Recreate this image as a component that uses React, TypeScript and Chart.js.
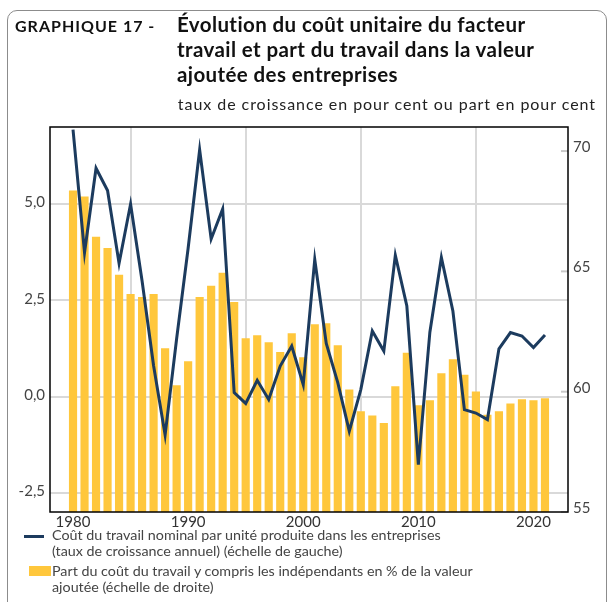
import React, { useEffect, useRef } from "react";
import { Chart, registerables } from "chart.js";

Chart.register(...registerables);

const years: number[] = [
  1980, 1981, 1982, 1983, 1984, 1985, 1986, 1987, 1988, 1989,
  1990, 1991, 1992, 1993, 1994, 1995, 1996, 1997, 1998, 1999,
  2000, 2001, 2002, 2003, 2004, 2005, 2006, 2007, 2008, 2009,
  2010, 2011, 2012, 2013, 2014, 2015, 2016, 2017, 2018, 2019,
  2020, 2021,
];

// Coût du travail nominal par unité produite (taux de croissance annuel, échelle de gauche)
const laborCostGrowth: number[] = [
  6.93, 3.74, 5.93, 5.35, 3.46, 5.0, 3.0, 0.8, -1.0, 1.5,
  3.85, 6.41, 4.09, 4.87, 0.1, -0.18, 0.42, -0.08, 0.79, 1.31,
  0.31, 3.56, 1.38, 0.36, -0.9, 0.18, 1.7, 1.18, 3.67, 2.35,
  -1.77, 1.67, 3.61, 2.22, -0.34, -0.43, -0.6, 1.24, 1.66, 1.57,
  1.27, 1.6,
];

// Part du coût du travail dans la valeur ajoutée (%, échelle de droite)
const laborShare: number[] = [
  68.35, 68.1, 66.43, 65.96, 64.85, 64.05, 63.92, 64.05, 61.79, 60.25,
  61.25, 63.92, 64.39, 64.93, 63.71, 62.21, 62.33, 62.04, 61.64, 62.42,
  61.42, 62.79, 62.83, 61.92, 60.08, 59.17, 59.0, 58.68, 60.21, 61.6,
  59.42, 59.63, 60.75, 61.33, 60.69, 59.99, 59.03, 59.17, 59.5, 59.67,
  59.63, 59.71,
];

const xTicks: number[] = [1980, 1990, 2000, 2010, 2020];
const leftTicks: number[] = [-2.5, 0, 2.5, 5];
const rightTicks: number[] = [55, 60, 65, 70];

const NAVY = "#1c3b5e";
const GOLD = "#ffc73c";
const GRID = "#d9d9d9";

const framePlugin = {
  id: "frame",
  afterDatasetsDraw(chart: any) {
    const { ctx, chartArea } = chart;
    const { left, right, top, bottom } = chartArea;
    ctx.save();
    const y1 = chart.scales.y1;
    ctx.strokeStyle = "#c8c8c8";
    ctx.lineWidth = 2;
    rightTicks.forEach((v) => {
      const py = y1.getPixelForValue(v);
      ctx.beginPath();
      ctx.moveTo(right - 7, py);
      ctx.lineTo(right, py);
      ctx.stroke();
    });
    ctx.strokeStyle = "#000";
    ctx.lineWidth = 1.5;
    ctx.strokeRect(left, top, right - left, bottom - top);
    ctx.restore();
  },
};

function ChartCanvas() {
  const ref = useRef<HTMLCanvasElement | null>(null);
  useEffect(() => {
    if (!ref.current) return;
    const tickFont = { family: "Lato", size: 15 };
    const chart = new Chart(ref.current, {
      type: "bar",
      data: {
        datasets: [
          {
            type: "line",
            label: "Coût du travail",
            data: years.map((yr, i) => ({ x: yr, y: laborCostGrowth[i] })),
            yAxisID: "y",
            borderColor: NAVY,
            borderWidth: 3,
            pointRadius: 0,
            tension: 0,
            order: 0,
          } as any,
          {
            type: "bar",
            label: "Part du coût du travail",
            data: years.map((yr, i) => ({ x: yr, y: laborShare[i] })),
            yAxisID: "y1",
            backgroundColor: GOLD,
            barThickness: 7.5,
            order: 1,
          } as any,
        ],
      },
      options: {
        responsive: false,
        animation: false,
        devicePixelRatio: 1,
        layout: { padding: { top: 127, left: 0, right: 0, bottom: 0 } },
        plugins: { legend: { display: false }, tooltip: { enabled: false } },
        scales: {
          x: {
            type: "linear",
            min: 1978,
            max: 2023,
            offset: false,
            afterBuildTicks: (s: any) => {
              s.ticks = xTicks.map((v) => ({ value: v }));
            },
            afterFit: (s: any) => {
              s.height = 28;
            },
            grid: { color: GRID, lineWidth: 2, drawTicks: false },
            border: { display: false },
            ticks: {
              font: tickFont,
              color: "#333",
              padding: 1,
              maxRotation: 0,
              callback: (v: any) => String(v),
            },
          },
          y: {
            type: "linear",
            position: "left",
            min: -3,
            max: 7,
            afterBuildTicks: (s: any) => {
              s.ticks = leftTicks.map((v) => ({ value: v }));
            },
            afterFit: (s: any) => {
              s.width = 50;
            },
            grid: { color: GRID, lineWidth: 2, drawTicks: false },
            border: { display: false },
            ticks: {
              font: tickFont,
              color: "#444",
              padding: 5,
              labelOffset: -1.5,
              callback: (v: any) => Number(v).toFixed(1).replace(".", ","),
            },
          },
          y1: {
            type: "linear",
            position: "right",
            min: 55,
            max: 71,
            afterBuildTicks: (s: any) => {
              s.ticks = rightTicks.map((v) => ({ value: v }));
            },
            afterFit: (s: any) => {
              s.width = 41;
            },
            grid: { drawOnChartArea: false, drawTicks: false },
            border: { display: false },
            ticks: {
              font: tickFont,
              color: "#444",
              padding: 5,
              labelOffset: -4,
              callback: (v: any) => String(v),
            },
          },
        },
      } as any,
      plugins: [framePlugin],
    });
    return () => chart.destroy();
  }, []);
  return (
    <canvas
      ref={ref}
      width={609}
      height={540}
      style={{ position: "absolute", left: 0, top: 0, width: 609, height: 540 }}
    />
  );
}

export default function App() {
  return (
    <div
      style={{
        position: "fixed",
        left: 0,
        top: 0,
        width: 609,
        height: 602,
        overflow: "hidden",
        background: "#fff",
        fontFamily: "Lato, sans-serif",
      }}
    >
      <div
        style={{
          position: "absolute",
          left: 7,
          top: 10,
          width: 600,
          height: 640,
          boxSizing: "border-box",
          border: "1.5px solid #8c8c8c",
          borderRadius: 10,
        }}
      />
      <ChartCanvas />
      <div
        style={{
          position: "absolute",
          left: 15,
          top: 16,
          fontSize: 16,
          lineHeight: "20px",
          fontWeight: 700,
          letterSpacing: "1px",
          color: "#111",
          whiteSpace: "nowrap",
        }}
      >
        GRAPHIQUE 17 -
      </div>
      <div
        style={{
          position: "absolute",
          left: 177,
          top: 12,
          fontSize: 20.5,
          lineHeight: "25px",
          fontWeight: 700,
          letterSpacing: "0.4px",
          color: "#111",
          whiteSpace: "nowrap",
        }}
      >
        <div>Évolution du coût unitaire du facteur</div>
        <div>travail et part du travail dans la valeur</div>
        <div>ajoutée des entreprises</div>
      </div>
      <div
        style={{
          position: "absolute",
          right: 13,
          top: 94,
          fontSize: 16,
          lineHeight: "20px",
          letterSpacing: "0.95px",
          color: "#222",
          whiteSpace: "nowrap",
        }}
      >
        taux de croissance en pour cent ou part en pour cent
      </div>
      <div
        style={{
          position: "absolute",
          left: 24,
          top: 535,
          width: 20,
          height: 3,
          background: NAVY,
        }}
      />
      <div
        style={{
          position: "absolute",
          left: 52,
          top: 527,
          fontSize: 14.3,
          lineHeight: "15.5px",
          color: "#444",
          whiteSpace: "nowrap",
        }}
      >
        <div>Coût du travail nominal par unité produite dans les entreprises</div>
        <div>(taux de croissance annuel) (échelle de gauche)</div>
      </div>
      <div
        style={{
          position: "absolute",
          left: 29,
          top: 566,
          width: 22,
          height: 10,
          background: GOLD,
        }}
      />
      <div
        style={{
          position: "absolute",
          left: 52,
          top: 563,
          fontSize: 14.3,
          lineHeight: "15.5px",
          color: "#444",
          whiteSpace: "nowrap",
        }}
      >
        <div>Part du coût du travail y compris les indépendants en % de la valeur</div>
        <div>ajoutée (échelle de droite)</div>
      </div>
    </div>
  );
}
